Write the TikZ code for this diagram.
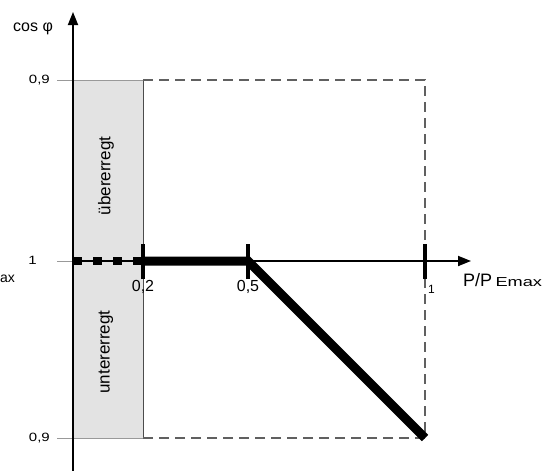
\documentclass[tikz,border=0pt]{standalone}
\usepackage{fontspec}
\setmainfont{Liberation Sans}
\usetikzlibrary{arrows.meta}

\newcommand{\wide}[2]{\scalebox{#1}[1]{#2}}

\tikzset{
  axis/.style={line width=1.8pt, -{Triangle[length=13pt, width=10pt]}},
  guide/.style={draw=gray!80, line width=0.6pt},
  frame/.style={draw=gray!75!black, line width=1.3pt, dash pattern=on 10pt off 6pt},
  curve/.style={line width=9pt, line join=miter},
  tick/.style={line width=4pt},
  lbl/.style={font=\fontsize{12}{14}\selectfont, inner sep=0pt},
  big/.style={font=\fontsize{16}{18}\selectfont, inner sep=0pt},
  band/.style={font=\fontsize{17}{19}\selectfont, inner sep=0pt, rotate=90},
}

\begin{document}
\begin{tikzpicture}[x=1pt, y=-1pt]
      \useasboundingbox (0,0) rectangle (550,471);
      % Define nodes
      \coordinate (o)    at (73,261);
      \coordinate (ytop) at (73,12);
      \coordinate (ybot) at (73,471);
      \coordinate (xend) at (471,261);
      \coordinate (p2)   at (143,261);
      \coordinate (p5)   at (248,261);
      \coordinate (p1)   at (425,261);
      \coordinate (hi)   at (73,80);
      \coordinate (lo)   at (73,438);
      \coordinate (hi1)  at (425,80);
      \coordinate (lo1)  at (425,438);
      \coordinate (hi2)  at (143,80);
      \coordinate (lo2)  at (143,438);
      % Shaded band
      \fill[gray!22] (hi) rectangle (lo2);
      \draw[gray!60!black, line width=0.8pt] (hi2) -- (lo2);
      \draw[guide] (hi) -- (hi2);
      \draw[guide] (lo) -- (lo2);
      \draw[frame] (hi2) -- (hi1) -- (lo1) -- (lo2);
      % Gridlines to labels
      \draw[guide] (57,80) -- (hi);
      \draw[guide] (57,261) -- (o);
      \draw[guide] (57,438) -- (lo);
      % Axes
      \draw[axis] (ybot) -- (ytop);
      \draw[axis] (o) -- (xend);
      % Curve
      \draw[line width=1.2pt] (o) -- (p2);
      \draw[line width=8pt, dash pattern=on 9pt off 11pt] (o) -- (p2);
      \draw[curve] (p2) -- (p5) -- (lo1);
      \foreach \p in {p2, p5, p1}
        \draw[tick] ([yshift=-18pt]\p) -- ([yshift=17pt]\p);
      % Labels
      \node[big, anchor=west] (cos) at (13,29) {cos φ};
      \node[lbl, anchor=east] (y09a) at (50,80) {\wide{1.25}{0,9}};
      \node[lbl, anchor=east] (y1) at (37,260) {\wide{1.25}{1}};
      \node[lbl, anchor=east] (y09b) at (50,438) {\wide{1.25}{0,9}};
      \node[lbl, anchor=west, font=\fontsize{14}{16}\selectfont] (cut) at (0,279) {ax};
      \node[big] (x02) at (143,287) {0,2};
      \node[big] (x05) at (248,287) {0,5};
      \node[lbl, anchor=west] (x1) at (428,289) {1};
      \node[lbl, anchor=base west] (xlab) at (463,286)
        {{\fontsize{18}{20}\selectfont P/P} \fontsize{13}{15}\selectfont\wide{1.4}{Emax}};
      \node[band] (ueber) at (106,176) {übererregt};
      \node[band] (unter) at (106,352) {untererregt};
    \end{tikzpicture}
\end{document}
